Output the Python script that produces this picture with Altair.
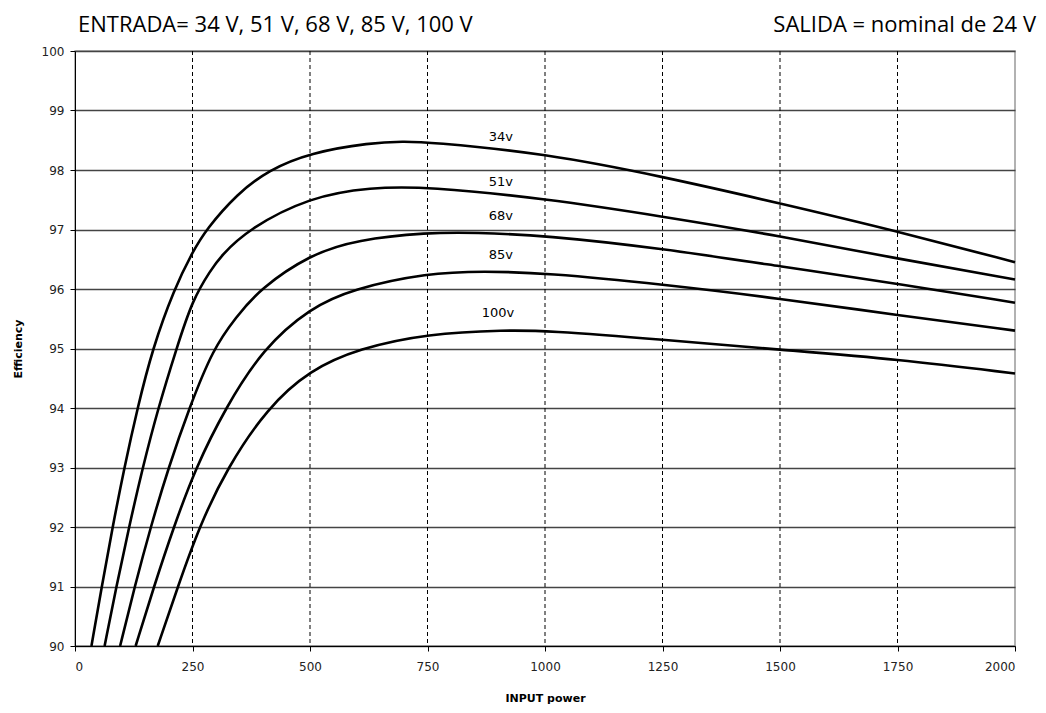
import altair as alt
import pandas as pd

# Input power (W) and efficiency (%)
w34 = [35, 57, 80, 105, 133, 165, 211, 250, 279, 345, 412, 500, 629, 700, 750, 1000, 1250, 1500, 1750, 2000]
e34 = [90, 91, 92, 93, 94, 95, 96, 96.62, 97, 97.6, 98, 98.29, 98.46, 98.48, 98.47, 98.28, 97.89, 97.44, 96.97, 96.45]

w51 = [63, 88, 115, 144, 177, 216, 250, 289, 310, 367, 500, 629, 750, 1000, 1250, 1500, 1750, 2000]
e51 = [90, 91, 92, 93, 94, 95, 95.82, 96.32, 96.55, 97, 97.55, 97.71, 97.72, 97.52, 97.22, 96.89, 96.51, 96.16]

w68 = [96, 127, 161, 199, 243, 294, 342, 393, 500, 600, 750, 850, 1000, 1250, 1500, 1750, 2000]
e68 = [90, 91, 92, 93, 94, 95, 95.52, 96, 96.58, 96.83, 96.95, 96.95, 96.9, 96.68, 96.38, 96.09, 95.77]

w85 = [129, 168, 210, 257, 320, 400, 500, 590, 750, 870, 1000, 1250, 1500, 1750, 2000]
e85 = [90, 91, 92, 93, 94, 95, 95.68, 96, 96.27, 96.3, 96.27, 96.08, 95.84, 95.56, 95.3]

w100 = [176, 219, 264, 324, 409, 500, 604, 750, 920, 1000, 1250, 1500, 1750, 2000]
e100 = [90, 91, 92, 93, 94, 94.64, 95, 95.25, 95.31, 95.3, 95.15, 94.98, 94.82, 94.58]

series_names = ["34v", "51v", "68v", "85v", "100v"]
label_x = [906, 906, 906, 906, 900]
label_y = [98.56, 97.8, 97.22, 96.57, 95.6]

x_ticks = [0, 250, 500, 750, 1000, 1250, 1500, 1750, 2000]
x_dashed = [250, 500, 750, 1000, 1250, 1500, 1750]
y_ticks = [90, 91, 92, 93, 94, 95, 96, 97, 98, 99, 100]

header_left = "ENTRADA= 34 V, 51 V, 68 V, 85 V, 100 V"
header_right = "SALIDA = nominal de 24 V"

rows = []
for name, ws, es in zip(series_names, [w34, w51, w68, w85, w100], [e34, e51, e68, e85, e100]):
    for i, (w, e) in enumerate(zip(ws, es)):
        rows.append({"series": name, "power": w, "eff": e, "order": i})
df = pd.DataFrame(rows)
lab = pd.DataFrame({"series": series_names, "power": label_x, "eff": label_y})
vgrid = pd.DataFrame({"power": x_dashed})

W, H = 940, 595
xs = alt.Scale(domain=[0, 2000], nice=False)
ys = alt.Scale(domain=[90, 100], nice=False)

dashed = alt.Chart(vgrid).mark_rule(color="black", strokeWidth=1, strokeDash=[4, 3]).encode(
    x=alt.X("power:Q", scale=xs)
)

lines = alt.Chart(df).mark_line(color="black", strokeWidth=2.6, interpolate="basis").encode(
    x=alt.X("power:Q", scale=xs,
            axis=alt.Axis(values=x_ticks, title="INPUT power", grid=False, format="d",
                          labelPadding=10, titlePadding=20)),
    y=alt.Y("eff:Q", scale=ys,
            axis=alt.Axis(values=y_ticks, title="Efficiency", grid=True, gridColor="#444444",
                          gridWidth=1.5, gridOpacity=1, format="d", titlePadding=18)),
    detail="series:N",
    order="order:Q",
)

labels = alt.Chart(lab).mark_text(font="DejaVu Sans", fontSize=13, color="black").encode(
    x=alt.X("power:Q", scale=xs),
    y=alt.Y("eff:Q", scale=ys),
    text="series:N",
)

hdr = pd.DataFrame({"t": [header_left, header_right]})
head_left = alt.Chart(hdr.iloc[[0]]).mark_text(
    font="Open Sans", fontSize=22, align="left", baseline="alphabetic", color="black"
).encode(x=alt.value(3), y=alt.value(-19), text="t:N")
head_right = alt.Chart(hdr.iloc[[1]]).mark_text(
    font="Open Sans", fontSize=22, align="right", baseline="alphabetic", color="black"
).encode(x=alt.value(961), y=alt.value(-19), text="t:N")

chart = alt.layer(dashed, lines, labels, head_left, head_right).properties(
    width=W, height=H,
    autosize=alt.AutoSizeParams(type="none"),
    padding={"left": 67, "top": 43, "right": 23, "bottom": 58},
).configure_view(stroke="#999999", strokeWidth=1.5).configure_axis(
    labelFont="DejaVu Sans", labelFontSize=12, labelColor="#222222",
    titleFont="DejaVu Sans", titleFontSize=11, titleFontWeight="bold", titleColor="black",
    domainColor="black", domainWidth=1, tickColor="black", tickSize=5, labelPadding=6,
)

chart.save("out.html", embed_options={"renderer": "svg", "actions": False})
